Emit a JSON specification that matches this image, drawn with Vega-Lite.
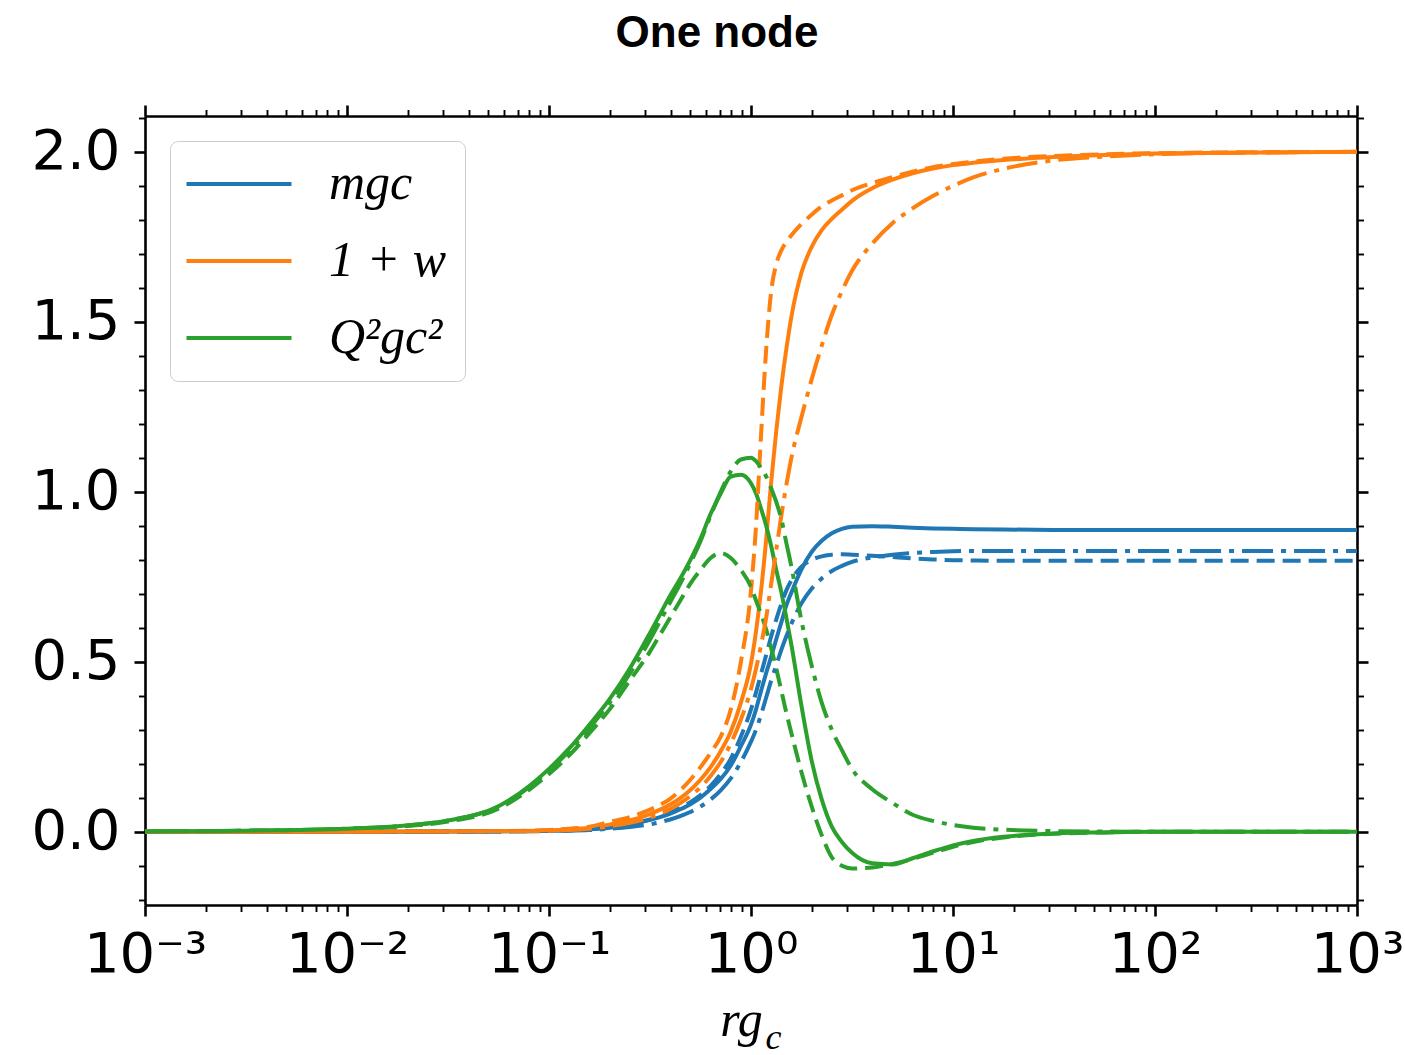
{
  "$schema": "https://vega.github.io/schema/vega-lite/v6.json",
  "width": 1212,
  "height": 789,
  "autosize": {"type": "none"},
  "padding": {"left": 145, "top": 116, "right": 48, "bottom": 150},
  "background": "white",
  "config": {"view": {"stroke": null}},
  "title": {
    "text": "One node",
    "font": "Liberation Sans",
    "fontSize": 44,
    "fontWeight": "bold",
    "color": "black",
    "anchor": "middle",
    "baseline": "alphabetic",
    "offset": -1,
    "dx": -34
  },
  "data": {
    "values": [
      {"rgc":0.001,"curve":"mgc","run":"a","value":0},{"rgc":0.003162,"curve":"mgc","run":"a","value":0},{"rgc":0.01,"curve":"mgc","run":"a","value":0},{"rgc":0.01778,"curve":"mgc","run":"a","value":0},{"rgc":0.03162,"curve":"mgc","run":"a","value":0.0005},{"rgc":0.05623,"curve":"mgc","run":"a","value":0.001},{"rgc":0.1,"curve":"mgc","run":"a","value":0.003},{"rgc":0.1259,"curve":"mgc","run":"a","value":0.004},{"rgc":0.1585,"curve":"mgc","run":"a","value":0.007},{"rgc":0.1995,"curve":"mgc","run":"a","value":0.012},{"rgc":0.2512,"curve":"mgc","run":"a","value":0.021},{"rgc":0.3162,"curve":"mgc","run":"a","value":0.035},{"rgc":0.3548,"curve":"mgc","run":"a","value":0.043},{"rgc":0.3981,"curve":"mgc","run":"a","value":0.053},{"rgc":0.4467,"curve":"mgc","run":"a","value":0.066},{"rgc":0.5012,"curve":"mgc","run":"a","value":0.081},{"rgc":0.5623,"curve":"mgc","run":"a","value":0.1},{"rgc":0.631,"curve":"mgc","run":"a","value":0.126},{"rgc":0.7079,"curve":"mgc","run":"a","value":0.155},{"rgc":0.7943,"curve":"mgc","run":"a","value":0.195},{"rgc":0.8913,"curve":"mgc","run":"a","value":0.252},{"rgc":1,"curve":"mgc","run":"a","value":0.315},{"rgc":1.059,"curve":"mgc","run":"a","value":0.36},{"rgc":1.122,"curve":"mgc","run":"a","value":0.415},{"rgc":1.189,"curve":"mgc","run":"a","value":0.467},{"rgc":1.259,"curve":"mgc","run":"a","value":0.515},{"rgc":1.334,"curve":"mgc","run":"a","value":0.567},{"rgc":1.413,"curve":"mgc","run":"a","value":0.616},{"rgc":1.496,"curve":"mgc","run":"a","value":0.666},{"rgc":1.585,"curve":"mgc","run":"a","value":0.704},{"rgc":1.778,"curve":"mgc","run":"a","value":0.772},{"rgc":1.995,"curve":"mgc","run":"a","value":0.823},{"rgc":2.239,"curve":"mgc","run":"a","value":0.856},{"rgc":2.512,"curve":"mgc","run":"a","value":0.878},{"rgc":2.818,"curve":"mgc","run":"a","value":0.891},{"rgc":3.162,"curve":"mgc","run":"a","value":0.897},{"rgc":3.981,"curve":"mgc","run":"a","value":0.899},{"rgc":5.012,"curve":"mgc","run":"a","value":0.897},{"rgc":6.31,"curve":"mgc","run":"a","value":0.894},{"rgc":7.943,"curve":"mgc","run":"a","value":0.892},{"rgc":10,"curve":"mgc","run":"a","value":0.891},{"rgc":12.59,"curve":"mgc","run":"a","value":0.89},{"rgc":17.78,"curve":"mgc","run":"a","value":0.889},{"rgc":31.62,"curve":"mgc","run":"a","value":0.888},{"rgc":56.23,"curve":"mgc","run":"a","value":0.888},{"rgc":100,"curve":"mgc","run":"a","value":0.888},{"rgc":316.2,"curve":"mgc","run":"a","value":0.888},{"rgc":1000,"curve":"mgc","run":"a","value":0.888},

      {"rgc":0.001,"curve":"mgc","run":"b","value":0},{"rgc":0.003162,"curve":"mgc","run":"b","value":0},{"rgc":0.01,"curve":"mgc","run":"b","value":0},{"rgc":0.01778,"curve":"mgc","run":"b","value":0},{"rgc":0.03162,"curve":"mgc","run":"b","value":0.0005},{"rgc":0.05623,"curve":"mgc","run":"b","value":0.001},{"rgc":0.1,"curve":"mgc","run":"b","value":0.003},{"rgc":0.1259,"curve":"mgc","run":"b","value":0.005},{"rgc":0.1585,"curve":"mgc","run":"b","value":0.008},{"rgc":0.1995,"curve":"mgc","run":"b","value":0.013},{"rgc":0.2512,"curve":"mgc","run":"b","value":0.022},{"rgc":0.3162,"curve":"mgc","run":"b","value":0.036},{"rgc":0.3548,"curve":"mgc","run":"b","value":0.045},{"rgc":0.3981,"curve":"mgc","run":"b","value":0.056},{"rgc":0.4467,"curve":"mgc","run":"b","value":0.07},{"rgc":0.5012,"curve":"mgc","run":"b","value":0.087},{"rgc":0.5623,"curve":"mgc","run":"b","value":0.108},{"rgc":0.631,"curve":"mgc","run":"b","value":0.135},{"rgc":0.7079,"curve":"mgc","run":"b","value":0.17},{"rgc":0.7943,"curve":"mgc","run":"b","value":0.215},{"rgc":0.8913,"curve":"mgc","run":"b","value":0.28},{"rgc":1,"curve":"mgc","run":"b","value":0.36},{"rgc":1.059,"curve":"mgc","run":"b","value":0.41},{"rgc":1.122,"curve":"mgc","run":"b","value":0.465},{"rgc":1.189,"curve":"mgc","run":"b","value":0.52},{"rgc":1.259,"curve":"mgc","run":"b","value":0.575},{"rgc":1.334,"curve":"mgc","run":"b","value":0.625},{"rgc":1.413,"curve":"mgc","run":"b","value":0.67},{"rgc":1.496,"curve":"mgc","run":"b","value":0.71},{"rgc":1.585,"curve":"mgc","run":"b","value":0.74},{"rgc":1.778,"curve":"mgc","run":"b","value":0.78},{"rgc":1.995,"curve":"mgc","run":"b","value":0.8},{"rgc":2.239,"curve":"mgc","run":"b","value":0.81},{"rgc":2.512,"curve":"mgc","run":"b","value":0.815},{"rgc":2.818,"curve":"mgc","run":"b","value":0.816},{"rgc":3.162,"curve":"mgc","run":"b","value":0.815},{"rgc":3.981,"curve":"mgc","run":"b","value":0.812},{"rgc":5.012,"curve":"mgc","run":"b","value":0.808},{"rgc":6.31,"curve":"mgc","run":"b","value":0.804},{"rgc":7.943,"curve":"mgc","run":"b","value":0.801},{"rgc":10,"curve":"mgc","run":"b","value":0.799},{"rgc":12.59,"curve":"mgc","run":"b","value":0.798},{"rgc":17.78,"curve":"mgc","run":"b","value":0.797},{"rgc":31.62,"curve":"mgc","run":"b","value":0.797},{"rgc":56.23,"curve":"mgc","run":"b","value":0.797},{"rgc":100,"curve":"mgc","run":"b","value":0.797},{"rgc":316.2,"curve":"mgc","run":"b","value":0.797},{"rgc":1000,"curve":"mgc","run":"b","value":0.797},

      {"rgc":0.001,"curve":"mgc","run":"c","value":0},{"rgc":0.003162,"curve":"mgc","run":"c","value":0},{"rgc":0.01,"curve":"mgc","run":"c","value":0},{"rgc":0.01778,"curve":"mgc","run":"c","value":0},{"rgc":0.03162,"curve":"mgc","run":"c","value":0.0005},{"rgc":0.05623,"curve":"mgc","run":"c","value":0.001},{"rgc":0.1,"curve":"mgc","run":"c","value":0.002},{"rgc":0.1259,"curve":"mgc","run":"c","value":0.003},{"rgc":0.1585,"curve":"mgc","run":"c","value":0.005},{"rgc":0.1995,"curve":"mgc","run":"c","value":0.009},{"rgc":0.2512,"curve":"mgc","run":"c","value":0.014},{"rgc":0.3162,"curve":"mgc","run":"c","value":0.022},{"rgc":0.3548,"curve":"mgc","run":"c","value":0.028},{"rgc":0.3981,"curve":"mgc","run":"c","value":0.036},{"rgc":0.4467,"curve":"mgc","run":"c","value":0.046},{"rgc":0.5012,"curve":"mgc","run":"c","value":0.058},{"rgc":0.5623,"curve":"mgc","run":"c","value":0.074},{"rgc":0.631,"curve":"mgc","run":"c","value":0.095},{"rgc":0.7079,"curve":"mgc","run":"c","value":0.122},{"rgc":0.7943,"curve":"mgc","run":"c","value":0.157},{"rgc":0.8913,"curve":"mgc","run":"c","value":0.205},{"rgc":1,"curve":"mgc","run":"c","value":0.265},{"rgc":1.059,"curve":"mgc","run":"c","value":0.3},{"rgc":1.122,"curve":"mgc","run":"c","value":0.345},{"rgc":1.189,"curve":"mgc","run":"c","value":0.395},{"rgc":1.259,"curve":"mgc","run":"c","value":0.445},{"rgc":1.334,"curve":"mgc","run":"c","value":0.49},{"rgc":1.413,"curve":"mgc","run":"c","value":0.535},{"rgc":1.496,"curve":"mgc","run":"c","value":0.575},{"rgc":1.585,"curve":"mgc","run":"c","value":0.612},{"rgc":1.778,"curve":"mgc","run":"c","value":0.672},{"rgc":1.995,"curve":"mgc","run":"c","value":0.715},{"rgc":2.239,"curve":"mgc","run":"c","value":0.745},{"rgc":2.512,"curve":"mgc","run":"c","value":0.767},{"rgc":2.818,"curve":"mgc","run":"c","value":0.782},{"rgc":3.162,"curve":"mgc","run":"c","value":0.794},{"rgc":3.981,"curve":"mgc","run":"c","value":0.807},{"rgc":5.012,"curve":"mgc","run":"c","value":0.815},{"rgc":6.31,"curve":"mgc","run":"c","value":0.82},{"rgc":7.943,"curve":"mgc","run":"c","value":0.823},{"rgc":10,"curve":"mgc","run":"c","value":0.825},{"rgc":12.59,"curve":"mgc","run":"c","value":0.826},{"rgc":17.78,"curve":"mgc","run":"c","value":0.826},{"rgc":31.62,"curve":"mgc","run":"c","value":0.826},{"rgc":56.23,"curve":"mgc","run":"c","value":0.826},{"rgc":100,"curve":"mgc","run":"c","value":0.826},{"rgc":316.2,"curve":"mgc","run":"c","value":0.826},{"rgc":1000,"curve":"mgc","run":"c","value":0.826},

      {"rgc":0.001,"curve":"1 + w","run":"a","value":0},{"rgc":0.003162,"curve":"1 + w","run":"a","value":0},{"rgc":0.01,"curve":"1 + w","run":"a","value":0},{"rgc":0.01778,"curve":"1 + w","run":"a","value":0.0005},{"rgc":0.03162,"curve":"1 + w","run":"a","value":0.001},{"rgc":0.05623,"curve":"1 + w","run":"a","value":0.002},{"rgc":0.1,"curve":"1 + w","run":"a","value":0.004},{"rgc":0.1259,"curve":"1 + w","run":"a","value":0.007},{"rgc":0.1585,"curve":"1 + w","run":"a","value":0.012},{"rgc":0.1995,"curve":"1 + w","run":"a","value":0.021},{"rgc":0.2512,"curve":"1 + w","run":"a","value":0.033},{"rgc":0.3162,"curve":"1 + w","run":"a","value":0.052},{"rgc":0.3548,"curve":"1 + w","run":"a","value":0.065},{"rgc":0.3981,"curve":"1 + w","run":"a","value":0.08},{"rgc":0.4467,"curve":"1 + w","run":"a","value":0.099},{"rgc":0.5012,"curve":"1 + w","run":"a","value":0.123},{"rgc":0.5623,"curve":"1 + w","run":"a","value":0.153},{"rgc":0.631,"curve":"1 + w","run":"a","value":0.19},{"rgc":0.7079,"curve":"1 + w","run":"a","value":0.237},{"rgc":0.7943,"curve":"1 + w","run":"a","value":0.295},{"rgc":0.8913,"curve":"1 + w","run":"a","value":0.38},{"rgc":1,"curve":"1 + w","run":"a","value":0.495},{"rgc":1.059,"curve":"1 + w","run":"a","value":0.59},{"rgc":1.122,"curve":"1 + w","run":"a","value":0.71},{"rgc":1.189,"curve":"1 + w","run":"a","value":0.86},{"rgc":1.259,"curve":"1 + w","run":"a","value":1.03},{"rgc":1.334,"curve":"1 + w","run":"a","value":1.18},{"rgc":1.413,"curve":"1 + w","run":"a","value":1.31},{"rgc":1.496,"curve":"1 + w","run":"a","value":1.42},{"rgc":1.585,"curve":"1 + w","run":"a","value":1.515},{"rgc":1.778,"curve":"1 + w","run":"a","value":1.645},{"rgc":1.995,"curve":"1 + w","run":"a","value":1.72},{"rgc":2.239,"curve":"1 + w","run":"a","value":1.77},{"rgc":2.512,"curve":"1 + w","run":"a","value":1.803},{"rgc":2.818,"curve":"1 + w","run":"a","value":1.83},{"rgc":3.162,"curve":"1 + w","run":"a","value":1.856},{"rgc":3.981,"curve":"1 + w","run":"a","value":1.893},{"rgc":5.012,"curve":"1 + w","run":"a","value":1.918},{"rgc":6.31,"curve":"1 + w","run":"a","value":1.937},{"rgc":7.943,"curve":"1 + w","run":"a","value":1.951},{"rgc":10,"curve":"1 + w","run":"a","value":1.961},{"rgc":12.59,"curve":"1 + w","run":"a","value":1.968},{"rgc":17.78,"curve":"1 + w","run":"a","value":1.976},{"rgc":31.62,"curve":"1 + w","run":"a","value":1.985},{"rgc":56.23,"curve":"1 + w","run":"a","value":1.991},{"rgc":100,"curve":"1 + w","run":"a","value":1.995},{"rgc":316.2,"curve":"1 + w","run":"a","value":1.998},{"rgc":1000,"curve":"1 + w","run":"a","value":2.0},

      {"rgc":0.001,"curve":"1 + w","run":"b","value":0},{"rgc":0.003162,"curve":"1 + w","run":"b","value":0},{"rgc":0.01,"curve":"1 + w","run":"b","value":0},{"rgc":0.01778,"curve":"1 + w","run":"b","value":0.0005},{"rgc":0.03162,"curve":"1 + w","run":"b","value":0.001},{"rgc":0.05623,"curve":"1 + w","run":"b","value":0.002},{"rgc":0.1,"curve":"1 + w","run":"b","value":0.005},{"rgc":0.1259,"curve":"1 + w","run":"b","value":0.009},{"rgc":0.1585,"curve":"1 + w","run":"b","value":0.015},{"rgc":0.1995,"curve":"1 + w","run":"b","value":0.029},{"rgc":0.2512,"curve":"1 + w","run":"b","value":0.043},{"rgc":0.3162,"curve":"1 + w","run":"b","value":0.065},{"rgc":0.3548,"curve":"1 + w","run":"b","value":0.079},{"rgc":0.3981,"curve":"1 + w","run":"b","value":0.097},{"rgc":0.4467,"curve":"1 + w","run":"b","value":0.122},{"rgc":0.5012,"curve":"1 + w","run":"b","value":0.153},{"rgc":0.5623,"curve":"1 + w","run":"b","value":0.19},{"rgc":0.631,"curve":"1 + w","run":"b","value":0.232},{"rgc":0.7079,"curve":"1 + w","run":"b","value":0.28},{"rgc":0.7943,"curve":"1 + w","run":"b","value":0.36},{"rgc":0.8913,"curve":"1 + w","run":"b","value":0.5},{"rgc":1,"curve":"1 + w","run":"b","value":0.71},{"rgc":1.059,"curve":"1 + w","run":"b","value":0.9},{"rgc":1.122,"curve":"1 + w","run":"b","value":1.17},{"rgc":1.189,"curve":"1 + w","run":"b","value":1.42},{"rgc":1.259,"curve":"1 + w","run":"b","value":1.59},{"rgc":1.334,"curve":"1 + w","run":"b","value":1.67},{"rgc":1.413,"curve":"1 + w","run":"b","value":1.71},{"rgc":1.496,"curve":"1 + w","run":"b","value":1.735},{"rgc":1.585,"curve":"1 + w","run":"b","value":1.755},{"rgc":1.778,"curve":"1 + w","run":"b","value":1.788},{"rgc":1.995,"curve":"1 + w","run":"b","value":1.815},{"rgc":2.239,"curve":"1 + w","run":"b","value":1.84},{"rgc":2.512,"curve":"1 + w","run":"b","value":1.857},{"rgc":2.818,"curve":"1 + w","run":"b","value":1.872},{"rgc":3.162,"curve":"1 + w","run":"b","value":1.887},{"rgc":3.981,"curve":"1 + w","run":"b","value":1.908},{"rgc":5.012,"curve":"1 + w","run":"b","value":1.926},{"rgc":6.31,"curve":"1 + w","run":"b","value":1.942},{"rgc":7.943,"curve":"1 + w","run":"b","value":1.955},{"rgc":10,"curve":"1 + w","run":"b","value":1.964},{"rgc":12.59,"curve":"1 + w","run":"b","value":1.971},{"rgc":17.78,"curve":"1 + w","run":"b","value":1.98},{"rgc":31.62,"curve":"1 + w","run":"b","value":1.988},{"rgc":56.23,"curve":"1 + w","run":"b","value":1.993},{"rgc":100,"curve":"1 + w","run":"b","value":1.996},{"rgc":316.2,"curve":"1 + w","run":"b","value":1.999},{"rgc":1000,"curve":"1 + w","run":"b","value":2.0},

      {"rgc":0.001,"curve":"1 + w","run":"c","value":0},{"rgc":0.003162,"curve":"1 + w","run":"c","value":0},{"rgc":0.01,"curve":"1 + w","run":"c","value":0},{"rgc":0.01778,"curve":"1 + w","run":"c","value":0.0005},{"rgc":0.03162,"curve":"1 + w","run":"c","value":0.001},{"rgc":0.05623,"curve":"1 + w","run":"c","value":0.0015},{"rgc":0.1,"curve":"1 + w","run":"c","value":0.003},{"rgc":0.1259,"curve":"1 + w","run":"c","value":0.005},{"rgc":0.1585,"curve":"1 + w","run":"c","value":0.009},{"rgc":0.1995,"curve":"1 + w","run":"c","value":0.016},{"rgc":0.2512,"curve":"1 + w","run":"c","value":0.026},{"rgc":0.3162,"curve":"1 + w","run":"c","value":0.042},{"rgc":0.3548,"curve":"1 + w","run":"c","value":0.053},{"rgc":0.3981,"curve":"1 + w","run":"c","value":0.067},{"rgc":0.4467,"curve":"1 + w","run":"c","value":0.084},{"rgc":0.5012,"curve":"1 + w","run":"c","value":0.105},{"rgc":0.5623,"curve":"1 + w","run":"c","value":0.131},{"rgc":0.631,"curve":"1 + w","run":"c","value":0.164},{"rgc":0.7079,"curve":"1 + w","run":"c","value":0.205},{"rgc":0.7943,"curve":"1 + w","run":"c","value":0.26},{"rgc":0.8913,"curve":"1 + w","run":"c","value":0.33},{"rgc":1,"curve":"1 + w","run":"c","value":0.42},{"rgc":1.059,"curve":"1 + w","run":"c","value":0.48},{"rgc":1.122,"curve":"1 + w","run":"c","value":0.55},{"rgc":1.189,"curve":"1 + w","run":"c","value":0.63},{"rgc":1.259,"curve":"1 + w","run":"c","value":0.73},{"rgc":1.334,"curve":"1 + w","run":"c","value":0.83},{"rgc":1.413,"curve":"1 + w","run":"c","value":0.93},{"rgc":1.496,"curve":"1 + w","run":"c","value":1.02},{"rgc":1.585,"curve":"1 + w","run":"c","value":1.1},{"rgc":1.778,"curve":"1 + w","run":"c","value":1.22},{"rgc":1.995,"curve":"1 + w","run":"c","value":1.33},{"rgc":2.239,"curve":"1 + w","run":"c","value":1.43},{"rgc":2.512,"curve":"1 + w","run":"c","value":1.52},{"rgc":2.818,"curve":"1 + w","run":"c","value":1.59},{"rgc":3.162,"curve":"1 + w","run":"c","value":1.65},{"rgc":3.981,"curve":"1 + w","run":"c","value":1.73},{"rgc":5.012,"curve":"1 + w","run":"c","value":1.79},{"rgc":6.31,"curve":"1 + w","run":"c","value":1.834},{"rgc":7.943,"curve":"1 + w","run":"c","value":1.87},{"rgc":10,"curve":"1 + w","run":"c","value":1.9},{"rgc":12.59,"curve":"1 + w","run":"c","value":1.925},{"rgc":17.78,"curve":"1 + w","run":"c","value":1.95},{"rgc":31.62,"curve":"1 + w","run":"c","value":1.975},{"rgc":56.23,"curve":"1 + w","run":"c","value":1.986},{"rgc":100,"curve":"1 + w","run":"c","value":1.993},{"rgc":316.2,"curve":"1 + w","run":"c","value":1.998},{"rgc":1000,"curve":"1 + w","run":"c","value":2.0},

      {"rgc":0.001,"curve":"Q²gc²","run":"a","value":0.001},{"rgc":0.003162,"curve":"Q²gc²","run":"a","value":0.003},{"rgc":0.01,"curve":"Q²gc²","run":"a","value":0.009},{"rgc":0.01778,"curve":"Q²gc²","run":"a","value":0.016},{"rgc":0.03162,"curve":"Q²gc²","run":"a","value":0.033},{"rgc":0.05623,"curve":"Q²gc²","run":"a","value":0.075},{"rgc":0.1,"curve":"Q²gc²","run":"a","value":0.185},{"rgc":0.1259,"curve":"Q²gc²","run":"a","value":0.245},{"rgc":0.1585,"curve":"Q²gc²","run":"a","value":0.315},{"rgc":0.1995,"curve":"Q²gc²","run":"a","value":0.39},{"rgc":0.2512,"curve":"Q²gc²","run":"a","value":0.48},{"rgc":0.3162,"curve":"Q²gc²","run":"a","value":0.585},{"rgc":0.3548,"curve":"Q²gc²","run":"a","value":0.64},{"rgc":0.3981,"curve":"Q²gc²","run":"a","value":0.695},{"rgc":0.4467,"curve":"Q²gc²","run":"a","value":0.745},{"rgc":0.5012,"curve":"Q²gc²","run":"a","value":0.8},{"rgc":0.5623,"curve":"Q²gc²","run":"a","value":0.862},{"rgc":0.631,"curve":"Q²gc²","run":"a","value":0.935},{"rgc":0.7079,"curve":"Q²gc²","run":"a","value":0.995},{"rgc":0.7943,"curve":"Q²gc²","run":"a","value":1.045},{"rgc":0.8913,"curve":"Q²gc²","run":"a","value":1.05},{"rgc":1,"curve":"Q²gc²","run":"a","value":1.025},{"rgc":1.059,"curve":"Q²gc²","run":"a","value":0.995},{"rgc":1.122,"curve":"Q²gc²","run":"a","value":0.95},{"rgc":1.189,"curve":"Q²gc²","run":"a","value":0.9},{"rgc":1.259,"curve":"Q²gc²","run":"a","value":0.84},{"rgc":1.334,"curve":"Q²gc²","run":"a","value":0.77},{"rgc":1.413,"curve":"Q²gc²","run":"a","value":0.705},{"rgc":1.496,"curve":"Q²gc²","run":"a","value":0.63},{"rgc":1.585,"curve":"Q²gc²","run":"a","value":0.55},{"rgc":1.778,"curve":"Q²gc²","run":"a","value":0.37},{"rgc":1.995,"curve":"Q²gc²","run":"a","value":0.21},{"rgc":2.239,"curve":"Q²gc²","run":"a","value":0.095},{"rgc":2.512,"curve":"Q²gc²","run":"a","value":0.015},{"rgc":2.818,"curve":"Q²gc²","run":"a","value":-0.03},{"rgc":3.162,"curve":"Q²gc²","run":"a","value":-0.062},{"rgc":3.981,"curve":"Q²gc²","run":"a","value":-0.093},{"rgc":5.012,"curve":"Q²gc²","run":"a","value":-0.096},{"rgc":6.31,"curve":"Q²gc²","run":"a","value":-0.078},{"rgc":7.943,"curve":"Q²gc²","run":"a","value":-0.058},{"rgc":10,"curve":"Q²gc²","run":"a","value":-0.04},{"rgc":12.59,"curve":"Q²gc²","run":"a","value":-0.027},{"rgc":17.78,"curve":"Q²gc²","run":"a","value":-0.015},{"rgc":31.62,"curve":"Q²gc²","run":"a","value":-0.005},{"rgc":56.23,"curve":"Q²gc²","run":"a","value":-0.002},{"rgc":100,"curve":"Q²gc²","run":"a","value":0},{"rgc":316.2,"curve":"Q²gc²","run":"a","value":0},{"rgc":1000,"curve":"Q²gc²","run":"a","value":0},

      {"rgc":0.001,"curve":"Q²gc²","run":"b","value":0.001},{"rgc":0.003162,"curve":"Q²gc²","run":"b","value":0.003},{"rgc":0.01,"curve":"Q²gc²","run":"b","value":0.008},{"rgc":0.01778,"curve":"Q²gc²","run":"b","value":0.015},{"rgc":0.03162,"curve":"Q²gc²","run":"b","value":0.03},{"rgc":0.05623,"curve":"Q²gc²","run":"b","value":0.068},{"rgc":0.1,"curve":"Q²gc²","run":"b","value":0.17},{"rgc":0.1259,"curve":"Q²gc²","run":"b","value":0.225},{"rgc":0.1585,"curve":"Q²gc²","run":"b","value":0.29},{"rgc":0.1995,"curve":"Q²gc²","run":"b","value":0.36},{"rgc":0.2512,"curve":"Q²gc²","run":"b","value":0.445},{"rgc":0.3162,"curve":"Q²gc²","run":"b","value":0.53},{"rgc":0.3548,"curve":"Q²gc²","run":"b","value":0.58},{"rgc":0.3981,"curve":"Q²gc²","run":"b","value":0.63},{"rgc":0.4467,"curve":"Q²gc²","run":"b","value":0.68},{"rgc":0.5012,"curve":"Q²gc²","run":"b","value":0.73},{"rgc":0.5623,"curve":"Q²gc²","run":"b","value":0.77},{"rgc":0.631,"curve":"Q²gc²","run":"b","value":0.805},{"rgc":0.7079,"curve":"Q²gc²","run":"b","value":0.82},{"rgc":0.7943,"curve":"Q²gc²","run":"b","value":0.805},{"rgc":0.8913,"curve":"Q²gc²","run":"b","value":0.77},{"rgc":1,"curve":"Q²gc²","run":"b","value":0.72},{"rgc":1.059,"curve":"Q²gc²","run":"b","value":0.68},{"rgc":1.122,"curve":"Q²gc²","run":"b","value":0.64},{"rgc":1.189,"curve":"Q²gc²","run":"b","value":0.595},{"rgc":1.259,"curve":"Q²gc²","run":"b","value":0.54},{"rgc":1.334,"curve":"Q²gc²","run":"b","value":0.48},{"rgc":1.413,"curve":"Q²gc²","run":"b","value":0.415},{"rgc":1.496,"curve":"Q²gc²","run":"b","value":0.35},{"rgc":1.585,"curve":"Q²gc²","run":"b","value":0.29},{"rgc":1.778,"curve":"Q²gc²","run":"b","value":0.175},{"rgc":1.995,"curve":"Q²gc²","run":"b","value":0.075},{"rgc":2.239,"curve":"Q²gc²","run":"b","value":-0.01},{"rgc":2.512,"curve":"Q²gc²","run":"b","value":-0.075},{"rgc":2.818,"curve":"Q²gc²","run":"b","value":-0.1},{"rgc":3.162,"curve":"Q²gc²","run":"b","value":-0.108},{"rgc":3.981,"curve":"Q²gc²","run":"b","value":-0.105},{"rgc":5.012,"curve":"Q²gc²","run":"b","value":-0.095},{"rgc":6.31,"curve":"Q²gc²","run":"b","value":-0.08},{"rgc":7.943,"curve":"Q²gc²","run":"b","value":-0.062},{"rgc":10,"curve":"Q²gc²","run":"b","value":-0.044},{"rgc":12.59,"curve":"Q²gc²","run":"b","value":-0.03},{"rgc":17.78,"curve":"Q²gc²","run":"b","value":-0.017},{"rgc":31.62,"curve":"Q²gc²","run":"b","value":-0.006},{"rgc":56.23,"curve":"Q²gc²","run":"b","value":-0.002},{"rgc":100,"curve":"Q²gc²","run":"b","value":0},{"rgc":316.2,"curve":"Q²gc²","run":"b","value":0},{"rgc":1000,"curve":"Q²gc²","run":"b","value":0},

      {"rgc":0.001,"curve":"Q²gc²","run":"c","value":0.001},{"rgc":0.003162,"curve":"Q²gc²","run":"c","value":0.003},{"rgc":0.01,"curve":"Q²gc²","run":"c","value":0.009},{"rgc":0.01778,"curve":"Q²gc²","run":"c","value":0.016},{"rgc":0.03162,"curve":"Q²gc²","run":"c","value":0.033},{"rgc":0.05623,"curve":"Q²gc²","run":"c","value":0.074},{"rgc":0.1,"curve":"Q²gc²","run":"c","value":0.18},{"rgc":0.1259,"curve":"Q²gc²","run":"c","value":0.238},{"rgc":0.1585,"curve":"Q²gc²","run":"c","value":0.305},{"rgc":0.1995,"curve":"Q²gc²","run":"c","value":0.38},{"rgc":0.2512,"curve":"Q²gc²","run":"c","value":0.465},{"rgc":0.3162,"curve":"Q²gc²","run":"c","value":0.565},{"rgc":0.3548,"curve":"Q²gc²","run":"c","value":0.62},{"rgc":0.3981,"curve":"Q²gc²","run":"c","value":0.675},{"rgc":0.4467,"curve":"Q²gc²","run":"c","value":0.73},{"rgc":0.5012,"curve":"Q²gc²","run":"c","value":0.79},{"rgc":0.5623,"curve":"Q²gc²","run":"c","value":0.855},{"rgc":0.631,"curve":"Q²gc²","run":"c","value":0.93},{"rgc":0.7079,"curve":"Q²gc²","run":"c","value":1.0},{"rgc":0.7943,"curve":"Q²gc²","run":"c","value":1.06},{"rgc":0.8913,"curve":"Q²gc²","run":"c","value":1.095},{"rgc":1,"curve":"Q²gc²","run":"c","value":1.1},{"rgc":1.059,"curve":"Q²gc²","run":"c","value":1.09},{"rgc":1.122,"curve":"Q²gc²","run":"c","value":1.07},{"rgc":1.189,"curve":"Q²gc²","run":"c","value":1.045},{"rgc":1.259,"curve":"Q²gc²","run":"c","value":1.01},{"rgc":1.334,"curve":"Q²gc²","run":"c","value":0.97},{"rgc":1.413,"curve":"Q²gc²","run":"c","value":0.92},{"rgc":1.496,"curve":"Q²gc²","run":"c","value":0.85},{"rgc":1.585,"curve":"Q²gc²","run":"c","value":0.78},{"rgc":1.778,"curve":"Q²gc²","run":"c","value":0.62},{"rgc":1.995,"curve":"Q²gc²","run":"c","value":0.49},{"rgc":2.239,"curve":"Q²gc²","run":"c","value":0.38},{"rgc":2.512,"curve":"Q²gc²","run":"c","value":0.3},{"rgc":2.818,"curve":"Q²gc²","run":"c","value":0.24},{"rgc":3.162,"curve":"Q²gc²","run":"c","value":0.185},{"rgc":3.981,"curve":"Q²gc²","run":"c","value":0.125},{"rgc":5.012,"curve":"Q²gc²","run":"c","value":0.085},{"rgc":6.31,"curve":"Q²gc²","run":"c","value":0.05},{"rgc":7.943,"curve":"Q²gc²","run":"c","value":0.032},{"rgc":10,"curve":"Q²gc²","run":"c","value":0.02},{"rgc":12.59,"curve":"Q²gc²","run":"c","value":0.012},{"rgc":17.78,"curve":"Q²gc²","run":"c","value":0.006},{"rgc":31.62,"curve":"Q²gc²","run":"c","value":0.002},{"rgc":56.23,"curve":"Q²gc²","run":"c","value":0.0005},{"rgc":100,"curve":"Q²gc²","run":"c","value":0},{"rgc":316.2,"curve":"Q²gc²","run":"c","value":0},{"rgc":1000,"curve":"Q²gc²","run":"c","value":0}
    ]
  },
  "encoding": {
    "color": {
      "field": "curve",
      "type": "nominal",
      "scale": {"domain": ["mgc", "1 + w", "Q²gc²"], "range": ["#1f77b4", "#ff7f0e", "#2ca02c"]},
      "legend": {
        "title": null,
        "orient": "none",
        "legendX": 25,
        "legendY": 25,
        "padding": 18,
        "fillColor": "rgba(255,255,255,0.8)",
        "strokeColor": "#cccccc",
        "cornerRadius": 8,
        "symbolType": "M-4,0L4,0",
        "symbolSize": 689,
        "symbolStrokeWidth": 4,
        "symbolDash": [],
        "symbolOffset": 26,
        "labelOffset": 65,
        "labelFont": "Liberation Serif",
        "labelFontStyle": "italic",
        "labelFontSize": 50,
        "labelColor": "black",
        "labelLimit": 0,
        "rowPadding": 27
      }
    }
  },
  "layer": [
    {
      "transform": [{"filter": {"field": "run", "equal": "a"}}],
      "mark": {"type": "line", "strokeWidth": 4, "interpolate": "monotone", "clip": true},
      "encoding": {
        "x": {
          "field": "rgc", "type": "quantitative",
          "scale": {"type": "log", "domain": [0.001, 1000], "nice": false},
          "axis": {
            "orient": "bottom",
            "values": [0.001,0.002,0.003,0.004,0.005,0.006,0.007,0.008,0.009,0.01,0.02,0.03,0.04,0.05,0.06,0.07,0.08,0.09,0.1,0.2,0.3,0.4,0.5,0.6,0.7,0.8,0.9,1,2,3,4,5,6,7,8,9,10,20,30,40,50,60,70,80,90,100,200,300,400,500,600,700,800,900,1000],
            "labelExpr": "abs(log(datum.value)/LN10 - round(log(datum.value)/LN10)) < 1e-6 ? ['10⁻³','10⁻²','10⁻¹','10⁰','10¹','10²','10³'][round(log(datum.value)/LN10) + 3] : ''",
            "labelFont": "DejaVu Sans", "labelFontSize": 56, "labelColor": "black",
            "labelPadding": 11, "labelOverlap": false, "labelFlush": false, "labelBound": false,
            "tickSize": {"condition": {"test": "abs(log(datum.value)/LN10 - round(log(datum.value)/LN10)) > 1e-6", "value": 6.5}, "value": 11},
            "tickWidth": {"condition": {"test": "abs(log(datum.value)/LN10 - round(log(datum.value)/LN10)) > 1e-6", "value": 1.9}, "value": 2.6},
            "tickColor": "black", "domainColor": "black", "domainWidth": 2.6, "grid": false,
            "title": "rg", "titleFont": "Liberation Serif", "titleFontStyle": "italic", "titleFontWeight": "normal",
            "titleFontSize": 50, "titleColor": "black", "titleX": 596, "titleY": 130,
            "titleAlign": "center", "titleBaseline": "alphabetic"
          }
        },
        "y": {
          "field": "value", "type": "quantitative",
          "scale": {"domain": [-0.2155, 2.1055], "nice": false, "zero": false},
          "axis": {
            "orient": "left",
            "values": [-0.2,-0.1,0,0.1,0.2,0.3,0.4,0.5,0.6,0.7,0.8,0.9,1,1.1,1.2,1.3,1.4,1.5,1.6,1.7,1.8,1.9,2,2.1],
            "labelExpr": "abs(datum.value*2 - round(datum.value*2)) < 1e-6 ? format(datum.value, '.1f') : ''",
            "labelFont": "DejaVu Sans", "labelFontSize": 56, "labelColor": "black",
            "labelPadding": 14, "labelOverlap": false, "labelFlush": false, "labelBound": false,
            "tickSize": {"condition": {"test": "abs(datum.value*2 - round(datum.value*2)) > 1e-6", "value": 6.5}, "value": 11},
            "tickWidth": {"condition": {"test": "abs(datum.value*2 - round(datum.value*2)) > 1e-6", "value": 1.9}, "value": 2.6},
            "tickColor": "black", "domainColor": "black", "domainWidth": 2.6, "grid": false,
            "title": null
          }
        }
      }
    },
    {
      "transform": [{"filter": {"field": "run", "equal": "b"}}],
      "mark": {"type": "line", "strokeWidth": 4, "interpolate": "monotone", "strokeDash": [18, 8], "clip": true},
      "encoding": {
        "x": {
          "field": "rgc", "type": "quantitative",
          "scale": {"type": "log", "domain": [0.001, 1000], "nice": false},
          "axis": {
            "orient": "top",
            "values": [0.001,0.002,0.003,0.004,0.005,0.006,0.007,0.008,0.009,0.01,0.02,0.03,0.04,0.05,0.06,0.07,0.08,0.09,0.1,0.2,0.3,0.4,0.5,0.6,0.7,0.8,0.9,1,2,3,4,5,6,7,8,9,10,20,30,40,50,60,70,80,90,100,200,300,400,500,600,700,800,900,1000],
            "labels": false,
            "tickSize": {"condition": {"test": "abs(log(datum.value)/LN10 - round(log(datum.value)/LN10)) > 1e-6", "value": 6.5}, "value": 11},
            "tickWidth": {"condition": {"test": "abs(log(datum.value)/LN10 - round(log(datum.value)/LN10)) > 1e-6", "value": 1.9}, "value": 2.6},
            "tickColor": "black", "domainColor": "black", "domainWidth": 2.6, "grid": false,
            "title": null
          }
        },
        "y": {
          "field": "value", "type": "quantitative",
          "scale": {"domain": [-0.2155, 2.1055], "nice": false, "zero": false},
          "axis": {
            "orient": "right",
            "values": [-0.2,-0.1,0,0.1,0.2,0.3,0.4,0.5,0.6,0.7,0.8,0.9,1,1.1,1.2,1.3,1.4,1.5,1.6,1.7,1.8,1.9,2,2.1],
            "labels": false,
            "tickSize": {"condition": {"test": "abs(datum.value*2 - round(datum.value*2)) > 1e-6", "value": 6.5}, "value": 11},
            "tickWidth": {"condition": {"test": "abs(datum.value*2 - round(datum.value*2)) > 1e-6", "value": 1.9}, "value": 2.6},
            "tickColor": "black", "domainColor": "black", "domainWidth": 2.6, "grid": false,
            "title": null
          }
        }
      }
    },
    {
      "transform": [{"filter": {"field": "run", "equal": "c"}}],
      "mark": {"type": "line", "strokeWidth": 4, "interpolate": "monotone", "strokeDash": [31, 8, 5, 8], "clip": true},
      "encoding": {
        "x": {
          "field": "rgc", "type": "quantitative",
          "scale": {"type": "log", "domain": [0.001, 1000], "nice": false},
          "axis": {
            "orient": "bottom",
            "labels": false, "ticks": false, "domain": false, "grid": false,
            "title": "c", "titleFont": "Liberation Serif", "titleFontStyle": "italic", "titleFontWeight": "normal",
            "titleFontSize": 36, "titleColor": "black", "titleX": 628, "titleY": 143,
            "titleAlign": "center", "titleBaseline": "alphabetic"
          }
        },
        "y": {
          "field": "value", "type": "quantitative",
          "scale": {"domain": [-0.2155, 2.1055], "nice": false, "zero": false},
          "axis": null
        }
      }
    }
  ],
  "resolve": {"axis": {"x": "independent", "y": "independent"}}
}
